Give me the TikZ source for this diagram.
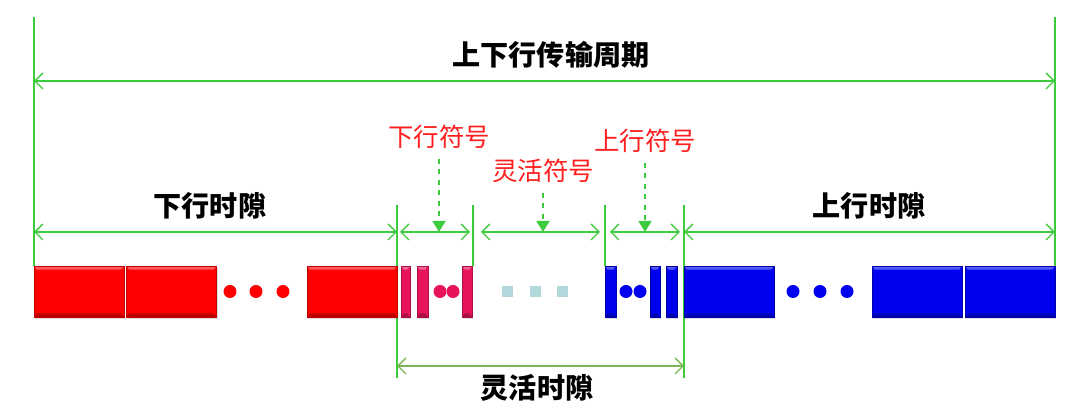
\documentclass[tikz,border=0pt]{standalone}
\usepackage{fontspec}
\setmainfont{Noto Sans CJK SC}
\usepackage{xcolor}
\usetikzlibrary{arrows.meta,shadows}

\definecolor{linegreen}{HTML}{3CCB3C}
\definecolor{slotgreen}{HTML}{7AB652}
\definecolor{symbred}{HTML}{FF1E1E}
\definecolor{symbpink}{HTML}{E8145A}
\definecolor{ulblue}{HTML}{0000F0}
\definecolor{flexsq}{HTML}{B2D8DC}

\tikzset{
    bevel/.style={path picture={
        \fill[white, opacity=0.35] (path picture bounding box.north west) -- (path picture bounding box.north east)
            -- ([xshift=-1.5pt,yshift=-2pt]path picture bounding box.north east)
            -- ([xshift=1.5pt,yshift=-2pt]path picture bounding box.north west) -- cycle;
        \fill[black, opacity=0.25] (path picture bounding box.south west) -- (path picture bounding box.south east)
            -- ([xshift=-1.5pt,yshift=2pt]path picture bounding box.south east)
            -- ([xshift=1.5pt,yshift=2pt]path picture bounding box.south west) -- cycle;
    }}
}

\begin{document}
\begin{tikzpicture}[
    x=0.02cm, y=-0.02cm,
    dlblock/.style={rectangle, draw=red!75!black, fill=red, minimum width=1.8cm, minimum height=1.02cm, inner sep=0pt, bevel,
        drop shadow={shadow xshift=0.6pt, shadow yshift=-1pt, opacity=0.25}},
    ulblock/.style={dlblock, draw=ulblue!70!black, fill=ulblue},
    dlbar/.style={rectangle, draw=symbpink!75!black, fill=symbpink, minimum width=0.2cm, minimum height=1.02cm, inner sep=0pt, bevel,
        drop shadow={shadow xshift=0.6pt, shadow yshift=-1pt, opacity=0.25}},
    ulbar/.style={dlbar, draw=ulblue!70!black, fill=ulblue},
    dot/.style={circle, inner sep=0pt, minimum size=0.26cm},
    sq/.style={rectangle, fill=flexsq, minimum size=0.22cm, inner sep=0pt},
    tick/.style={line width=0.8pt, draw=linegreen},
    dim/.style={{Straight Barb[length=1.6mm,width=3.2mm]}-{Straight Barb[length=1.6mm,width=3.2mm]}, line width=0.8pt, draw=linegreen},
    ptr/.style={-{Triangle[length=2.2mm,width=2.6mm]}, dashed, line width=0.8pt, draw=linegreen},
    title/.style={font=\bfseries\fontsize{16}{19}\selectfont},
    symb/.style={text=symbred, font=\fontsize{14.5}{17}\selectfont}
]
    \useasboundingbox (0,0) rectangle (1080,411);

    % boundaries
    \coordinate (t0) at (34,17);    \coordinate (b0) at (34,266);
    \coordinate (t5) at (1055,17);  \coordinate (b5) at (1055,266);
    \coordinate (t1) at (397,205);  \coordinate (b1) at (397,378);
    \coordinate (t2) at (473,205);  \coordinate (b2) at (473,266);
    \coordinate (t3) at (605,205);  \coordinate (b3) at (605,266);
    \coordinate (t4) at (684,205);  \coordinate (b4) at (684,378);
    \foreach \i in {0,...,5}
        \draw[tick] (t\i) -- (b\i);

    % downlink slot
    \node[dlblock] (dl1) at (79,291.5) {};
    \node[dlblock] (dl2) at (171.5,291.5) {};
    \foreach \x [count=\k] in {230,256,283}
        \node[dot, fill=red] (dldot\k) at (\x,291.5) {};
    \node[dlblock] (dl3) at (352,291.5) {};

    % flexible slot
    \node[dlbar, minimum width=0.18cm] (dbar1) at (405.5,291.5) {};
    \node[dlbar, minimum width=0.22cm] (dbar2) at (422.5,291.5) {};
    \node[dot, fill=symbpink] (pdot1) at (440,291.5) {};
    \node[dot, fill=symbpink] (pdot2) at (453,291.5) {};
    \node[dlbar] (dbar3) at (467,291.5) {};
    \foreach \x [count=\k] in {507,535.5,562.5}
        \node[sq] (fsq\k) at (\x,291.5) {};
    \node[ulbar, minimum width=0.22cm] (ubar1) at (610.5,291.5) {};
    \node[dot, fill=ulblue] (bdot1) at (626,291.5) {};
    \node[dot, fill=ulblue] (bdot2) at (640,291.5) {};
    \node[ulbar] (ubar2) at (655,291.5) {};
    \node[ulbar, minimum width=0.22cm] (ubar3) at (671.5,291.5) {};

    % uplink slot
    \node[ulblock] (ul1) at (729,291.5) {};
    \foreach \x [count=\k] in {793,820,847}
        \node[dot, fill=ulblue] (uldot\k) at (\x,291.5) {};
    \node[ulblock] (ul2) at (917,291.5) {};
    \node[ulblock] (ul3) at (1010,291.5) {};

    % labels
    \node[title] (cycle) at (551,55) {上下行传输周期};
    \node[title] (dlslot) at (210,206) {下行时隙};
    \node[title] (ulslot) at (869,206) {上行时隙};
    \node[title] (flexslot) at (537,388) {灵活时隙};
    \node[symb] (dlsym) at (439,137) {下行符号};
    \node[symb] (flexsym) at (543,171) {灵活符号};
    \node[symb] (ulsym) at (645,141) {上行符号};

    % dimension arrows
    \coordinate (c0) at (34,81);   \coordinate (c5) at (1055,81);
    \coordinate (d0) at (34,232);  \coordinate (d1) at (397,232);
    \coordinate (s1) at (400,232); \coordinate (s2) at (470,232);
    \coordinate (f1) at (481,232); \coordinate (f2) at (600,232);
    \coordinate (u1) at (610,232); \coordinate (u2) at (680,232);
    \coordinate (d4) at (684,232); \coordinate (d5) at (1055,232);
    \coordinate (g1) at (397,366); \coordinate (g4) at (684,366);
    \draw[dim] (c0) -- (c5);
    \draw[dim] (d0) -- (d1);
    \draw[dim] (s1) -- (s2);
    \draw[dim] (f1) -- (f2);
    \draw[dim] (u1) -- (u2);
    \draw[dim] (d4) -- (d5);
    \draw[dim, draw=slotgreen] (g1) -- (g4);

    % pointers
    \draw[ptr] ([yshift=-2pt]dlsym.south) -- (dlsym.south |- s1);
    \draw[ptr] ([yshift=-2pt]flexsym.south) -- (flexsym.south |- f1);
    \draw[ptr] ([yshift=-2pt]ulsym.south) -- (ulsym.south |- u1);
\end{tikzpicture}
\end{document}
